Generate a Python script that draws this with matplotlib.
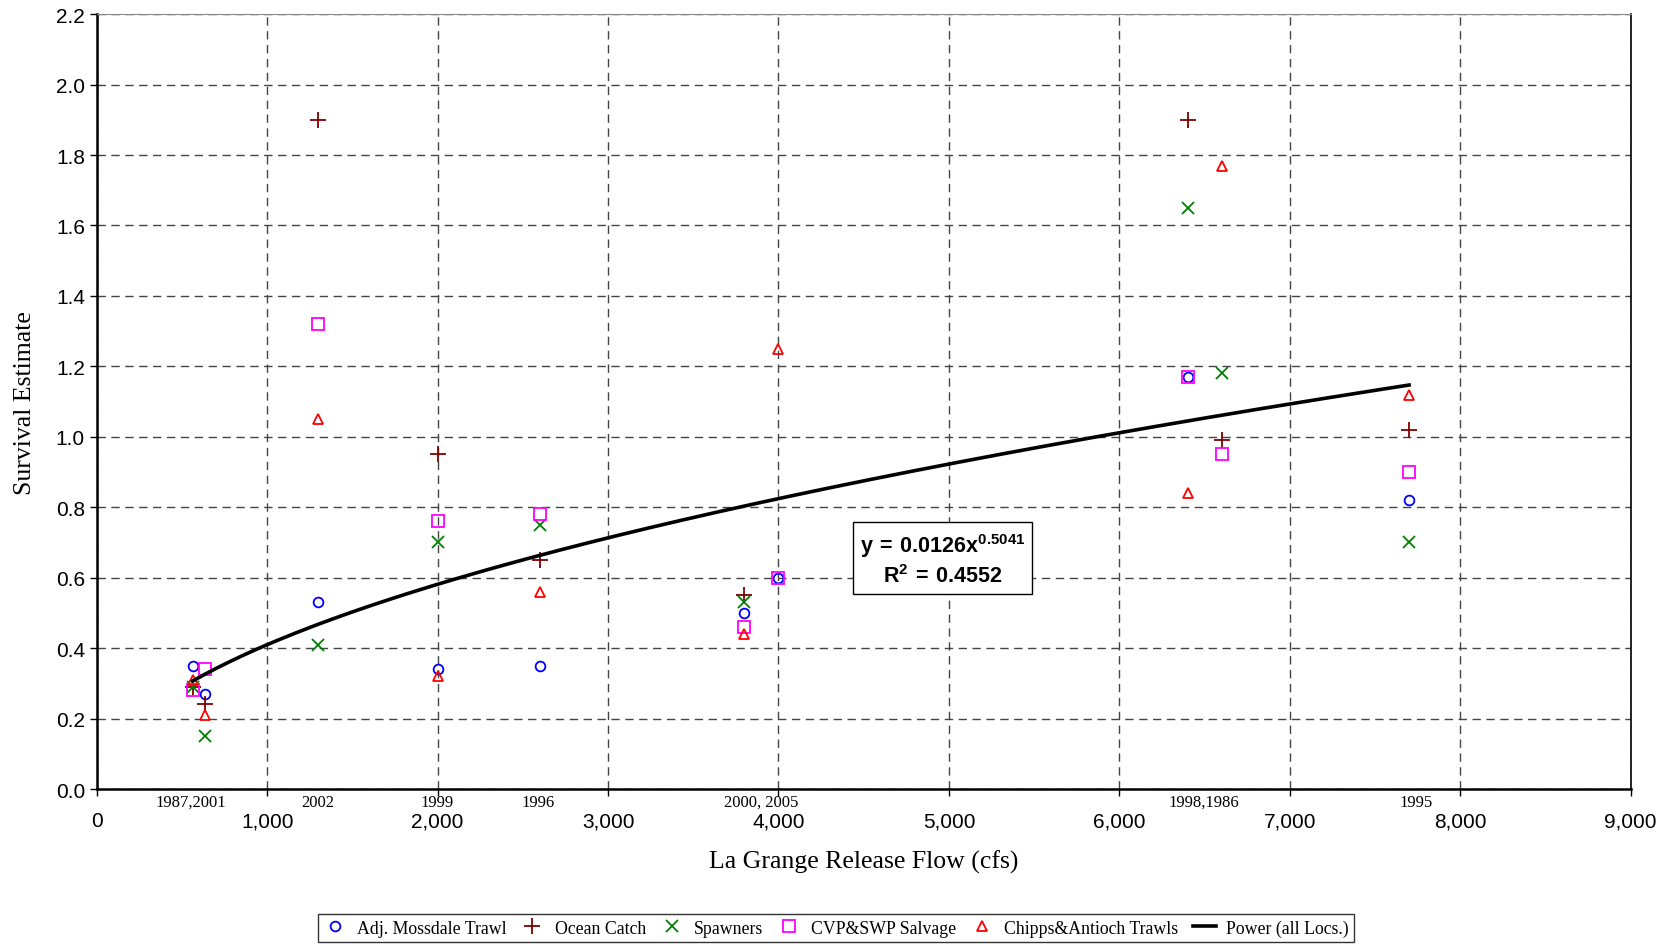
import numpy as np
import matplotlib
matplotlib.use('Agg')
import matplotlib.pyplot as plt

plt.rcParams['font.family'] = ['Liberation Sans', 'DejaVu Sans']
plt.rcParams['mathtext.fontset'] = 'custom'
plt.rcParams['mathtext.bf'] = 'Liberation Sans:bold'
plt.rcParams['mathtext.rm'] = 'Liberation Sans'

SERIF = ['Liberation Serif', 'DejaVu Serif']

# release flow (cfs) per year group
flow = [562, 637, 1300, 2000, 2600, 3800, 4000, 6400, 6600, 7700]

# survival estimates per location (None = no value)
mossdale = [0.35, 0.27, 0.53, 0.34, 0.35, 0.50, 0.60, 1.17, None, 0.82]
ocean = [0.29, 0.24, 1.90, 0.95, 0.65, 0.55, None, 1.90, 0.99, 1.02]
spawners = [0.29, 0.15, 0.41, 0.70, 0.75, 0.53, None, 1.65, 1.18, 0.70]
salvage = [0.28, 0.34, 1.32, 0.76, 0.78, 0.46, 0.60, 1.17, 0.95, 0.90]
chipps = [0.31, 0.21, 1.05, 0.32, 0.56, 0.44, 1.25, 0.84, 1.77, 1.12]

# power fit reported on the chart
coef_a = 0.0126
coef_b = 0.5041
r2 = 0.4552

year_labels = ['1987,2001', '2002', '1999', '1996', '2000, 2005', '1998,1986', '1995']
year_label_x = [552, 1294, 1999, 2590, 3900, 6496, 7740]

series = [
    ('Adj. Mossdale Trawl', mossdale, 'o', '#0000FF', 7),
    ('Ocean Catch', ocean, '+', '#800000', 11),
    ('Spawners', spawners, 'x', '#008000', 9),
    ('CVP&SWP Salvage', salvage, 's', '#FF00FF', 8),
    ('Chipps&Antioch Trawls', chipps, '^', '#FF0000', 7),
]

fig = plt.figure(figsize=(16.69, 9.45), dpi=100)
ax = fig.add_axes([0.058, 0.164, 0.919, 0.820])

for name, vals, mk, col, ms in series:
    xs = [f for f, v in zip(flow, vals) if v is not None]
    ys = [v for v in vals if v is not None]
    if mk in ('+', 'x'):
        ax.plot(xs, ys, linestyle='none', marker=mk, color=col, markersize=ms,
                markeredgewidth=1.3, label=name, zorder=3)
    else:
        ax.plot(xs, ys, linestyle='none', marker=mk, markerfacecolor='none',
                markeredgecolor=col, markersize=ms, markeredgewidth=1.3,
                label=name, zorder=3)

xfit = np.linspace(min(flow), max(flow), 200)
ax.plot(xfit, coef_a * xfit ** coef_b, color='black', linewidth=2.6,
        label='Power (all Locs.)', zorder=4)

ax.set_xlim(0, 9000)
ax.set_ylim(0, 2.2)
ax.set_xticks(np.arange(0, 9001, 1000))
ax.set_xticklabels(['0'] + [f'{v:,}' for v in range(1000, 9001, 1000)])
ax.set_yticks(np.arange(0, 2.21, 0.2))
ax.set_yticklabels([f'{v:.1f}' for v in np.arange(0, 2.21, 0.2)])
ax.tick_params(axis='both', labelsize=15, direction='out', length=5, width=1)
ax.tick_params(axis='x', pad=11)

ax.grid(True, color='#444444', linestyle=(0, (6, 4)), linewidth=1)
ax.set_axisbelow(True)
ax.spines['left'].set_linewidth(1.8)
ax.spines['bottom'].set_linewidth(1.8)
ax.spines['right'].set_linewidth(1.2)
ax.spines['top'].set_color('#888888')

for lab, xp in zip(year_labels, year_label_x):
    ax.text(xp, -0.037, lab, ha='center', va='center', fontsize=12,
            family=SERIF, clip_on=False)

ax.set_xlabel('La Grange Release Flow (cfs)', fontsize=18.5, family=SERIF, labelpad=14)
ax.set_ylabel('Survival Estimate', fontsize=18.5, family=SERIF, labelpad=14)

eq = (f'$\\mathbf{{y\\,=\\,0.0126x^{{{coef_b}}}}}$' + '\n' + f'$\\mathbf{{R^{{2}}\\,=\\,{r2}}}$')
ax.text(4963, 0.653, eq, ha='center', va='center', fontsize=15.5,
        linespacing=1.3, zorder=5,
        bbox=dict(boxstyle='square,pad=0.3', facecolor='white', edgecolor='black', linewidth=1))

leg = fig.legend(loc='center', bbox_to_anchor=(0.501, 0.017), ncol=6,
                 prop={'family': SERIF, 'size': 12.8}, frameon=True, fancybox=False,
                 edgecolor='black', handlelength=1.3, handletextpad=0.6,
                 columnspacing=0.8, borderpad=0.3, numpoints=1)
leg.get_frame().set_linewidth(1)

fig.savefig('out.png', dpi=100)
